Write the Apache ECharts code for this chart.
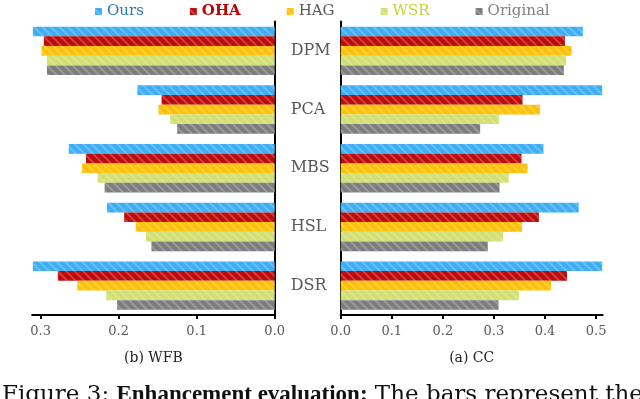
<!DOCTYPE html>
<html>
<head>
<meta charset="utf-8">
<script src="https://cdn.jsdelivr.net/npm/echarts@6/dist/echarts.min.js"></script>
<style>
  html, body { margin: 0; padding: 0; background: #fff; }
  #chart { width: 640px; height: 399px; }
</style>
</head>
<body>
<div id="chart"></div>
<script>
  // categories (top to bottom)
  var categories = ['DPM', 'PCA', 'MBS', 'HSL', 'DSR'];
  var methods = ['Ours', 'OHA', 'HAG', 'WSR', 'Original'];

  // (b) WFB - left panel
  var wfbOurs     = [0.310, 0.176, 0.264, 0.215, 0.310];
  var wfbOha      = [0.296, 0.145, 0.242, 0.193, 0.278];
  var wfbHag      = [0.299, 0.149, 0.247, 0.178, 0.253];
  var wfbWsr      = [0.292, 0.134, 0.227, 0.165, 0.216];
  var wfbOriginal = [0.292, 0.125, 0.218, 0.158, 0.202];

  // (a) CC - right panel
  var ccOurs     = [0.474, 0.512, 0.397, 0.466, 0.512];
  var ccOha      = [0.439, 0.356, 0.354, 0.388, 0.443];
  var ccHag      = [0.452, 0.390, 0.366, 0.355, 0.412];
  var ccWsr      = [0.441, 0.310, 0.329, 0.318, 0.349];
  var ccOriginal = [0.437, 0.273, 0.311, 0.288, 0.309];

  var wfbTicks = [0, 0.1, 0.2, 0.3];
  var ccTicks = [0, 0.1, 0.2, 0.3, 0.4, 0.5];

  var colors = ['#3DAEF5', '#BE0A0A', '#FFC107', '#D2DF72', '#7D7D7D'];
  var legendColors = ['#2E75B6', '#C00000', '#595959', '#C5D43A', '#808080'];

  var serif = 'DejaVu Serif';

  function stripes() {
    return {
      symbol: 'rect',
      dashArrayX: [1, 0],
      dashArrayY: [2, 4],
      rotation: Math.PI / 4,
      color: 'rgba(255,255,255,0.22)'
    };
  }

  function makeSeries(name, data, idx, panel) {
    return {
      name: name,
      type: 'bar',
      xAxisIndex: panel,
      yAxisIndex: panel,
      data: data,
      barGap: '0%',
      barCategoryGap: '17.5%',
      itemStyle: { color: colors[idx], decal: stripes() },
      emphasis: { disabled: true },
      animation: false
    };
  }

  var wfbData = [wfbOurs, wfbOha, wfbHag, wfbWsr, wfbOriginal];
  var ccData = [ccOurs, ccOha, ccHag, ccWsr, ccOriginal];
  var series = [];
  methods.forEach(function (m, i) { series.push(makeSeries(m, wfbData[i], i, 0)); });
  methods.forEach(function (m, i) { series.push(makeSeries(m, ccData[i], i, 1)); });

  var axisBlack = { show: true, lineStyle: { color: '#000', width: 2 } };

  var option = {
    animation: false,
    legend: {
      left: 95,
      top: 4,
      padding: 0,
      itemWidth: 7,
      itemHeight: 7,
      itemGap: 46,
      icon: 'rect',
      selectedMode: false,
      textStyle: { fontFamily: serif, fontSize: 15 },
      data: methods.map(function (m, i) {
        return {
          name: m,
          textStyle: {
            color: legendColors[i],
            fontWeight: m === 'OHA' ? 'bold' : 'normal'
          }
        };
      })
    },
    grid: [
      { left: 32.1, right: 365.3, top: 21.5, bottom: 84 },
      { left: 340.7, right: 37.3, top: 21.5, bottom: 84 }
    ],
    xAxis: [
      {
        type: 'value', gridIndex: 0, inverse: true, min: 0, max: 0.311,
        splitLine: { show: false },
        axisLine: axisBlack,
        axisTick: { show: true, length: 4, lineStyle: { color: '#000', width: 2 }, customValues: wfbTicks },
        axisLabel: { customValues: wfbTicks, color: '#595959', fontFamily: serif, fontSize: 13, margin: 10,
          formatter: function (v) { return v.toFixed(1); } },
        name: '(b) WFB', nameLocation: 'middle', nameGap: 36,
        nameTextStyle: { color: '#222', fontFamily: serif, fontSize: 14 }
      },
      {
        type: 'value', gridIndex: 1, min: 0, max: 0.513,
        splitLine: { show: false },
        axisLine: axisBlack,
        axisTick: { show: true, length: 4, lineStyle: { color: '#000', width: 2 }, customValues: ccTicks },
        axisLabel: { customValues: ccTicks, color: '#595959', fontFamily: serif, fontSize: 13, margin: 10,
          formatter: function (v) { return v.toFixed(1); } },
        name: '(a) CC', nameLocation: 'middle', nameGap: 36,
        nameTextStyle: { color: '#222', fontFamily: serif, fontSize: 14 }
      }
    ],
    yAxis: [
      {
        type: 'category', gridIndex: 0, inverse: true, position: 'right',
        data: categories,
        axisLine: axisBlack,
        axisTick: { show: false },
        axisLabel: { color: '#595959', fontFamily: serif, fontSize: 16, margin: 16, align: 'left' }
      },
      {
        type: 'category', gridIndex: 1, inverse: true,
        data: categories,
        axisLine: axisBlack,
        axisTick: { show: false },
        axisLabel: { show: false }
      }
    ],
    graphic: [
      {
        type: 'text', left: 2, top: 384,
        style: {
          text: '{r|Figure 3: }{b|Enhancement evaluation:}{r| The bars represent the}',
          rich: {
            r: { fontFamily: 'DejaVu Serif', fontSize: 23, fill: '#111' },
            b: { fontFamily: 'Liberation Serif', fontSize: 23, fontWeight: 'bold', fill: '#111' }
          }
        }
      }
    ],
    series: series
  };

  echarts.init(document.getElementById('chart')).setOption(option);
</script>
</body>
</html>
